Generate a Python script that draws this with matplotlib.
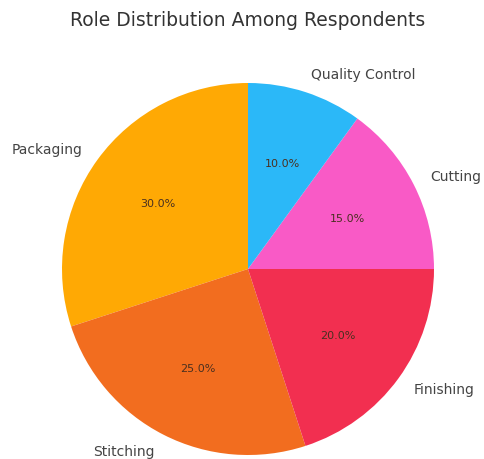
import matplotlib
matplotlib.use("Agg")
import matplotlib.pyplot as plt

roles = ["Packaging", "Stitching", "Finishing", "Cutting", "Quality Control"]
shares = [30, 25, 20, 15, 10]
colors = ["#FFA904", "#F26D1F", "#F22F50", "#F95AC6", "#2BB8F8"]

fig = plt.figure(figsize=(4.85, 4.6), dpi=100)
ax = fig.add_axes([0, 0, 1, 1])

ax.pie(shares, labels=roles, colors=colors, autopct="%1.1f%%",
       startangle=90, labeldistance=1.1, pctdistance=0.6,
       textprops={"color": "#444444", "fontsize": 10})
for t in ax.texts:
    if t.get_text().endswith("%"):
        t.set_fontsize(8)
        t.set_color("#4a3020")

# place the unit circle: centre at (248, 270) px from top-left, radius 186 px
cx, cy, r = 248, 460 - 270, 186
ax.set_xlim(-cx / r, (485 - cx) / r)
ax.set_ylim(-cy / r, (460 - cy) / r)
ax.set_aspect("auto")
ax.axis("off")

fig.text(248 / 485, 1 - 20 / 460, "Role Distribution Among Respondents",
         ha="center", va="center", fontsize=13.5, color="#333333")

fig.savefig("out.png", dpi=100)
